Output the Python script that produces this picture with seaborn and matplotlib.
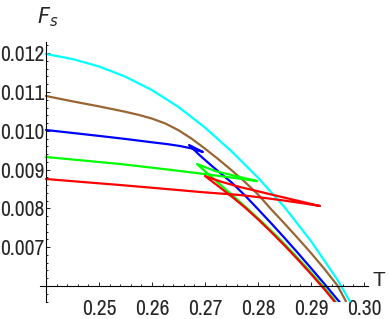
import matplotlib
matplotlib.use("Agg")
import pandas as pd
import matplotlib.pyplot as plt
from matplotlib import font_manager as fm
from matplotlib.ticker import FixedLocator, MultipleLocator
import seaborn as sns

# values (T, F_s); each curve is drawn in the listed order
T_cyan = [0.2400, 0.2450, 0.2500, 0.2550, 0.2600, 0.2650, 0.2700, 0.2750,
          0.2800, 0.2850, 0.2900, 0.2950, 0.2974]
F_cyan = [0.011980, 0.011850, 0.011660, 0.011395, 0.011050, 0.010615, 0.010085, 0.009475,
          0.008795, 0.008035, 0.007160, 0.006160, 0.005588]

T_brown = [0.2400, 0.2450, 0.2500, 0.2550, 0.2575, 0.2600, 0.2625, 0.2650, 0.2675, 0.2700,
           0.2725, 0.2750, 0.2775, 0.2800, 0.2825, 0.2850, 0.2875, 0.2900, 0.2925, 0.2950, 0.2966]
F_brown = [0.010897, 0.010760, 0.010630, 0.010490, 0.010410, 0.010315, 0.010190, 0.010015,
           0.009795, 0.009540, 0.009270, 0.008985, 0.008685, 0.008360, 0.007975, 0.007610,
           0.007235, 0.006850, 0.006445, 0.006010, 0.005600]

T_blue = [0.2400, 0.2450, 0.2502, 0.2550, 0.2596, 0.2630, 0.2653, 0.2675, 0.2696,
          0.2670,
          0.2690, 0.2715, 0.2750, 0.2775, 0.2800, 0.2825, 0.2850, 0.2875, 0.2900,
          0.2925, 0.2950, 0.2954]
F_blue = [0.010021, 0.009945, 0.009866, 0.009790, 0.009711, 0.009655, 0.009608, 0.009545, 0.009454,
          0.009634,
          0.009370, 0.009070, 0.008670, 0.008340, 0.007980, 0.007615, 0.007240, 0.006855, 0.006460,
          0.006060, 0.005650, 0.005588]

T_green = [0.2400, 0.2470, 0.2540, 0.2600, 0.2653, 0.2700, 0.2750, 0.2798,
           0.2766, 0.2720, 0.2685,
           0.2710, 0.2735, 0.2760, 0.2785, 0.2810, 0.2835, 0.2860, 0.2885, 0.2910,
           0.2935, 0.2947]
F_green = [0.009325, 0.009235, 0.009144, 0.009050, 0.008964, 0.008885, 0.008795, 0.008706,
           0.008809, 0.008960, 0.009144,
           0.008840, 0.008540, 0.008240, 0.007935, 0.007620, 0.007290, 0.006940, 0.006575, 0.006195,
           0.005800, 0.005588]

T_red = [0.2400, 0.2470, 0.2540, 0.2615, 0.2691, 0.2766, 0.2804, 0.2842, 0.2880, 0.2917,
         0.2840, 0.2766, 0.2730, 0.2700,
         0.2725, 0.2750, 0.2775, 0.2800, 0.2825, 0.2850, 0.2875, 0.2900, 0.2925, 0.2942, 0.2945]
F_red = [0.008758, 0.008680, 0.008603, 0.008515, 0.008423, 0.008345, 0.008285, 0.008216,
         0.008142, 0.008062,
         0.008310, 0.008552, 0.008690, 0.008835,
         0.008575, 0.008310, 0.008030, 0.007720, 0.007390, 0.007045, 0.006685, 0.006310,
         0.005920, 0.005640, 0.005588]

x_ticks = [0.25, 0.26, 0.27, 0.28, 0.29, 0.30]
x_labels = ["0.25", "0.26", "0.27", "0.28", "0.29", "0.30"]
y_ticks = [0.007, 0.008, 0.009, 0.010, 0.011, 0.012]
y_labels = ["0.007", "0.008", "0.009", "0.010", "0.011", "0.012"]

curves = [("cyan", T_cyan, F_cyan), ("brown", T_brown, F_brown),
          ("blue", T_blue, F_blue), ("green", T_green, F_green),
          ("red", T_red, F_red)]
colors = {"cyan": "#00FFFF", "brown": "#996633", "blue": "#0000FF",
          "green": "#00FF00", "red": "#FF0000"}

frames = []
for name, t, f in curves:
    frames.append(pd.DataFrame({"T": t, "F": f, "curve": name}))
df = pd.concat(frames, ignore_index=True)

sns.set_style("white")
plt.rcParams["font.family"] = ["Liberation Sans", "DejaVu Sans"]

# a narrow face is closer to the original tick font, if one is installed
narrow = [f for f in fm.fontManager.ttflist
          if "Narrow" in f.name and f.style == "normal" and f.weight in (400, "normal", "regular")]
if narrow:
    tick_font = fm.FontProperties(fname=narrow[0].fname, size=15.5)
else:
    tick_font = fm.FontProperties(family=["Liberation Sans", "DejaVu Sans"], size=12.8)

fig = plt.figure(figsize=(3.88, 3.19), dpi=100)
ax = fig.add_axes([40 / 388, 17 / 319, 328 / 388, 260 / 319])

sns.lineplot(data=df, x="T", y="F", hue="curve", units="curve", estimator=None,
             sort=False, palette=colors, linewidth=1.6, legend=False, ax=ax)

ax.set_xlim(0.23887, 0.30075)
ax.set_ylim(0.005588, 0.012289)

for side in ["top", "right"]:
    ax.spines[side].set_visible(False)
ax.spines["left"].set_position(("data", 0.24))
ax.spines["bottom"].set_position(("data", 0.006))
for side in ["left", "bottom"]:
    ax.spines[side].set_linewidth(0.8)
    ax.spines[side].set_color("black")

ax.xaxis.set_major_locator(FixedLocator(x_ticks))
ax.set_xticklabels(x_labels, fontproperties=tick_font)
ax.yaxis.set_major_locator(FixedLocator(y_ticks))
ax.set_yticklabels(y_labels, fontproperties=tick_font)
ax.xaxis.set_minor_locator(MultipleLocator(0.002))
ax.yaxis.set_minor_locator(MultipleLocator(0.0002))

ax.tick_params(axis="both", which="both", direction="in", color="black", width=0.6,
               bottom=True, left=True)
ax.tick_params(axis="both", which="major", length=3)
ax.tick_params(axis="both", which="minor", length=1.6)
ax.tick_params(axis="x", which="major", pad=9.5)
ax.tick_params(axis="y", which="major", pad=1)
ax.set_xlabel("")
ax.set_ylabel("")
ax.grid(False)

fig.text(48 / 388, 1 - 17 / 319, r"$F_s$", fontsize=15, ha="center", va="center")
fig.text(379 / 388, 1 - 280 / 319, "T", fontsize=15, ha="center", va="center")

fig.savefig("out.png", dpi=100)
